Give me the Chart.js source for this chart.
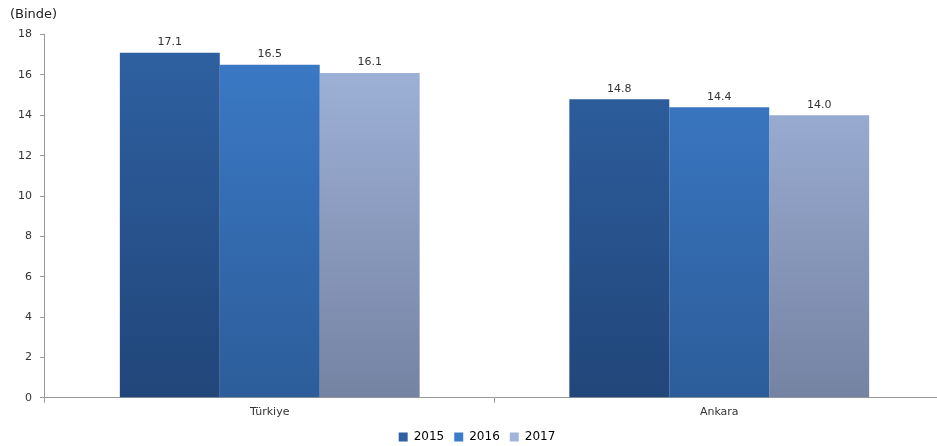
<!DOCTYPE html>
<html lang="tr">
<head>
  <meta charset="UTF-8">
  <title>Binde</title>
  <style>
    body { margin: 0; background: #fff; }
    .wrap { position: relative; width: 937px; height: 446px; overflow: hidden; }
  </style>
</head>
<body>
  <div class="wrap"><canvas id="chart" width="944" height="453"></canvas></div>

  <script src="https://cdn.jsdelivr.net/npm/chart.js"></script>
  <script>
    const categories = ['Türkiye', 'Ankara'];
    const years = ['2015', '2016', '2017'];
    const values2015 = [17.1, 14.8];
    const values2016 = [16.5, 14.4];
    const values2017 = [16.1, 14.0];
    const yTicks = [0, 2, 4, 6, 8, 10, 12, 14, 16, 18];

    // top / bottom colours of each series gradient
    const topColors = ['#2f61a2', '#3c7bc8', '#a1b5dc'];
    const bottomColors = ['#21467a', '#2c5d9a', '#7583a3'];

    function gradient(i) {
      return function (ctx) {
        const area = ctx.chart.chartArea;
        if (!area) return topColors[i];
        const g = ctx.chart.ctx.createLinearGradient(0, area.top, 0, area.bottom);
        g.addColorStop(0, topColors[i]);
        g.addColorStop(1, bottomColors[i]);
        return g;
      };
    }

    const valueLabels = {
      id: 'valueLabels',
      afterDatasetsDraw(chart) {
        const c = chart.ctx;
        c.save();
        c.font = '11px "DejaVu Sans", Verdana, sans-serif';
        c.fillStyle = '#333';
        c.textAlign = 'center';
        c.textBaseline = 'bottom';
        chart.data.datasets.forEach((ds, i) => {
          chart.getDatasetMeta(i).data.forEach((bar, j) => {
            c.fillText(ds.data[j].toFixed(1), bar.x, bar.y - 5);
          });
        });
        c.restore();
      }
    };

    const sets = [values2015, values2016, values2017];
    const font = '"DejaVu Sans", Verdana, sans-serif';

    new Chart(document.getElementById('chart'), {
      type: 'bar',
      data: {
        labels: categories,
        datasets: years.map((y, i) => ({
          label: y,
          data: sets[i],
          backgroundColor: gradient(i),
          borderWidth: 0,
          barPercentage: 1,
          categoryPercentage: 0.667
        }))
      },
      options: {
        responsive: false,
        animation: false,
        layout: { padding: { left: 10, right: 0, top: 0, bottom: 0 } },
        plugins: {
          title: {
            display: true,
            text: '(Binde)',
            align: 'start',
            color: '#222',
            font: { family: font, size: 13, weight: 'normal' },
            padding: { top: 7, bottom: 12 }
          },
          legend: {
            position: 'bottom',
            labels: {
              boxWidth: 9,
              boxHeight: 9,
              padding: 10,
              color: '#333',
              font: { family: font, size: 12 },
              generateLabels(chart) {
                return years.map((y, i) => ({
                  text: y,
                  fillStyle: topColors[i],
                  strokeStyle: topColors[i],
                  lineWidth: 0,
                  datasetIndex: i
                }));
              }
            }
          },
          tooltip: { enabled: false }
        },
        scales: {
          x: {
            grid: { display: true, drawOnChartArea: false, drawTicks: true, tickLength: 5, color: '#999', offset: true },
            border: { color: '#999' },
            ticks: { color: '#333', font: { family: font, size: 11 }, padding: 3 },
            afterFit(axis) { axis.height -= 1; }
          },
          y: {
            min: 0,
            max: 18,
            afterBuildTicks(axis) { axis.ticks = yTicks.map(v => ({ value: v })); },
            grid: { display: true, drawOnChartArea: false, drawTicks: true, tickLength: 5, color: '#999' },
            border: { color: '#999' },
            ticks: { color: '#333', font: { family: font, size: 11 }, padding: 8 }
          }
        }
      },
      plugins: [valueLabels]
    });
  </script>
</body>
</html>
